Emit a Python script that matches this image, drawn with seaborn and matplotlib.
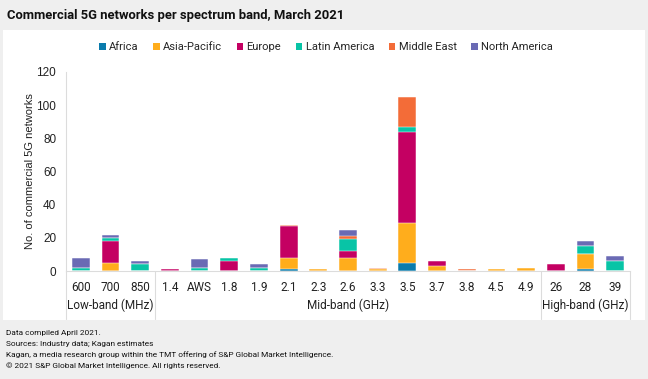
import matplotlib
matplotlib.use("Agg")
import matplotlib.pyplot as plt
import matplotlib.transforms as mtransforms
from matplotlib.patches import Patch, Rectangle
import seaborn as sns
import numpy as np
import pandas as pd

# data
bands = ['600', '700', '850', '1.4', 'AWS', '1.8', '1.9', '2.1', '2.3', '2.6',
         '3.3', '3.5', '3.7', '3.8', '4.5', '4.9', '26', '28', '39']
regions = ['Africa', 'Asia-Pacific', 'Europe', 'Latin America', 'Middle East', 'North America']
africa = [0, 0, 0, 0, 0, 0, 0, 1, 0, 0, 0, 5, 0, 0, 0, 0, 0, 1, 0]
asia_pacific = [0, 5, 0, 0, 0, 0, 0, 7, 1, 8, 1, 24, 3, 0, 1, 2, 0, 9, 0]
europe = [0, 13, 0, 1, 0, 6, 0, 19, 0, 4, 0, 55, 3, 0, 0, 0, 4, 0, 0]
latin_america = [2, 2, 4, 0, 2, 2, 2, 0, 0, 7, 0, 3, 0, 0, 0, 0, 0, 5, 6]
middle_east = [0, 0, 0, 0, 0, 0, 0, 1, 0, 2, 1, 18, 0, 1, 0, 0, 0, 0, 0]
north_america = [6, 2, 2, 0, 5, 0, 2, 0, 0, 4, 0, 0, 0, 0, 0, 0, 0, 3, 3]
groups = [('Low-band (MHz)', 0, 3), ('Mid-band (GHz)', 3, 16), ('High-band (GHz)', 16, 19)]

colors = ['#0a7bac', '#ffad1c', '#c40062', '#08c4a6', '#f36c38', '#6a6ab4']

df = pd.DataFrame({'band': bands, 'Africa': africa, 'Asia-Pacific': asia_pacific,
                   'Europe': europe, 'Latin America': latin_america,
                   'Middle East': middle_east, 'North America': north_america})

sns.set_theme(style='white')
plt.rcParams['font.family'] = ['Roboto', 'DejaVu Sans']

fig = plt.figure(figsize=(6.48, 3.79), dpi=100, facecolor='#efefef')
fig.patches.append(Rectangle((3 / 648, 1 - 320 / 379), 642 / 648, 290 / 379,
                             transform=fig.transFigure, facecolor='white',
                             edgecolor='none', zorder=-1))
ax = fig.add_axes([66 / 648, 1 - 271 / 379, 564 / 648, 199 / 379])
ax.set_zorder(2)
ax.set_facecolor('white')

# stacked bars: draw cumulative totals from top segment down
cum = df[regions].cumsum(axis=1)
for reg, col in reversed(list(zip(regions, colors))):
    sns.barplot(x=df['band'], y=cum[reg], color=col, width=0.6, ax=ax, saturation=1,
                edgecolor='#ffffff', linewidth=0.35, order=bands)

ax.set_xlim(-0.5, len(bands) - 0.5)
ax.set_ylim(0, 120)
ax.set_yticks(np.arange(0, 121, 20))
ax.set_xlabel('')
ax.set_ylabel('No. of commercial 5G networks', fontsize=8, color='#222222',
              family=['Liberation Sans', 'DejaVu Sans'], labelpad=1)
ax.tick_params(axis='y', length=3, color='#d0d0d0', labelsize=8.5, labelcolor='#222222', pad=4)
ax.tick_params(axis='x', length=0, labelsize=8.5, labelcolor='#222222', pad=7)
for lab in ax.get_yticklabels():
    lab.set_family(['Liberation Sans', 'DejaVu Sans'])
for s in ['top', 'right']:
    ax.spines[s].set_visible(False)
for s in ['left', 'bottom']:
    ax.spines[s].set_color('#dcdcdc')
    ax.spines[s].set_linewidth(0.8)

# group separators and labels below the axis
trans = mtransforms.blended_transform_factory(ax.transData, ax.transAxes)
for name, start, end in groups:
    ax.text((start + end - 1) / 2, -0.17, name, transform=trans, ha='center',
            va='center', fontsize=8.5, color='#222222')
for xs in [-0.5, 2.5, 15.5, 18.5]:
    ax.plot([xs, xs], [0, -0.24], transform=trans, color='#dcdcdc',
            linewidth=0.8, clip_on=False)

handles = [Patch(facecolor=c, edgecolor='none') for c in colors]
fig.legend(handles, regions, loc='center', bbox_to_anchor=(326 / 648, 1 - 47 / 379),
           ncol=6, frameon=False, fontsize=8, handlelength=0.6, handleheight=0.6,
           handletextpad=0.3, columnspacing=1.3)

fig.text(7 / 648, 1 - 15 / 379, 'Commercial 5G networks per spectrum band, March 2021',
         fontsize=9.4, fontweight='bold', color='#111111', va='center', ha='left')

notes = ['Data compiled April 2021.',
         'Sources: Industry data; Kagan estimates',
         'Kagan, a media research group within the TMT offering of S&P Global Market Intelligence.',
         '\u00a9 2021 S&P Global Market Intelligence. All rights reserved.']
for i, line in enumerate(notes):
    fig.text(6 / 648, 1 - (333.5 + i * 10.6) / 379, line, fontsize=5.95,
             color='#111111', va='center', ha='left')

fig.savefig('out.png', dpi=100, facecolor=fig.get_facecolor())
